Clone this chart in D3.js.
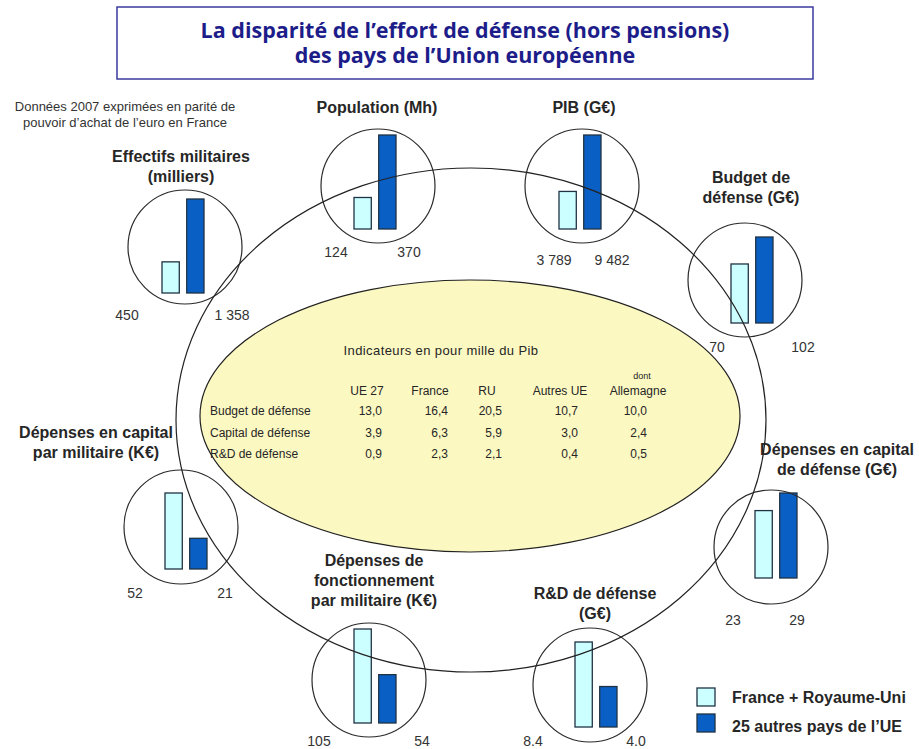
<!DOCTYPE html>
<html>
<head>
<meta charset="utf-8">
<script src="https://cdn.jsdelivr.net/npm/d3@7"></script>
<style>
  body { margin: 0; background: #fff; }
  svg { display: block; font-family: "Liberation Sans", Arial, sans-serif; }
</style>
</head>
<body>
<svg width="919" height="749"></svg>
<script>
// Data
const panelTitles = [
  ["Effectifs militaires", "(milliers)"],
  ["Population (Mh)"],
  ["PIB (G€)"],
  ["Budget de", "défense (G€)"],
  ["Dépenses en capital", "de défense (G€)"],
  ["R&D de défense", "(G€)"],
  ["Dépenses de", "fonctionnement", "par militaire (K€)"],
  ["Dépenses en capital", "par militaire (K€)"]
];
const franceUK = [450, 124, 3789, 70, 23, 8.4, 105, 52];
const otherEU = [1358, 370, 9482, 102, 29, 4.0, 54, 21];
const franceUKLabels = ["450", "124", "3 789", "70", "23", "8.4", "105", "52"];
const otherEULabels = ["1 358", "370", "9 482", "102", "29", "4.0", "54", "21"];
const seriesNames = ["France + Royaume-Uni", "25 autres pays de l\u2019UE"];

const tableColumns = ["UE 27", "France", "RU", "Autres UE", "Allemagne"];
const tableRows = ["Budget de défense", "Capital de défense", "R&D de défense"];
const budgetRow = [13.0, 16.4, 20.5, 10.7, 10.0];
const capitalRow = [3.9, 6.3, 5.9, 3.0, 2.4];
const rdRow = [0.9, 2.3, 2.1, 0.4, 0.5];

// Layout of each little circle chart
const layout = [
  { cx: 185, cy: 247, x0: 162, base: 293, h: 94, lx: 127, rx: 232, ly: 320, tx: 181, ty: 162 },
  { cx: 378, cy: 186, x0: 354, base: 229, h: 94, lx: 336, rx: 409, ly: 257, tx: 377, ty: 113 },
  { cx: 582, cy: 186, x0: 559, base: 229, h: 94, lx: 554, rx: 612, ly: 265, tx: 584, ty: 113 },
  { cx: 745, cy: 280, x0: 731, base: 323, h: 86, lx: 717, rx: 803, ly: 352, tx: 751, ty: 183 },
  { cx: 771, cy: 547, x0: 755, base: 578, h: 85, lx: 733, rx: 797, ly: 625, tx: 837, ty: 455 },
  { cx: 590, cy: 685, x0: 575, base: 727, h: 85, lx: 533, rx: 636, ly: 746, tx: 595, ty: 599 },
  { cx: 369, cy: 680, x0: 354, base: 723, h: 94, lx: 319, rx: 422, ly: 746, tx: 374, ty: 566 },
  { cx: 181, cy: 527, x0: 165, base: 569, h: 76, lx: 135, rx: 225, ly: 598, tx: 96, ty: 438 }
];

const colors = ["#ccffff", "#0a5fc4"];
const textColor = "#262626";

const svg = d3.select("svg");

// Title box
svg.append("rect")
  .attr("x", 117).attr("y", 7)
  .attr("width", 696).attr("height", 72)
  .attr("fill", "#fff")
  .attr("stroke", "#3a3aa0")
  .attr("stroke-width", 1.5);

svg.append("text")
  .attr("text-anchor", "middle")
  .attr("font-family", "'Open Sans', sans-serif")
  .attr("font-weight", 700)
  .attr("font-size", 21.5)
  .attr("fill", "#1d1d8a")
  .selectAll("tspan")
  .data(["La disparité de l\u2019effort de défense (hors pensions)", "des pays de l\u2019Union européenne"])
  .join("tspan")
  .attr("x", 465)
  .attr("y", (d, i) => 38 + i * 25)
  .text(d => d);

// Note
svg.append("text")
  .attr("text-anchor", "middle")
  .attr("font-size", 13)
  .attr("fill", "#333")
  .selectAll("tspan")
  .data(["Données 2007 exprimées en parité de", "pouvoir d\u2019achat  de l\u2019euro en France"])
  .join("tspan")
  .attr("x", 125)
  .attr("y", (d, i) => 111 + i * 16)
  .text(d => d);

// Inner yellow ellipse
svg.append("ellipse")
  .attr("cx", 470).attr("cy", 416)
  .attr("rx", 270).attr("ry", 136)
  .attr("fill", "#fcf8c2")
  .attr("stroke", "#222")
  .attr("stroke-width", 1.2);

// Table
const tbl = svg.append("g").attr("font-size", 12).attr("fill", textColor);
const colCenter = [367, 430, 487, 560, 638];
const colRight = [382, 448, 502, 578, 647];
const rowY = d3.scalePoint().domain(tableRows).range([415, 458]);
const fmt = d3.formatLocale({ decimal: ",", thousands: " ", grouping: [3], currency: ["", "€"] }).format(".1f");

tbl.append("text")
  .attr("x", 441).attr("y", 355)
  .attr("text-anchor", "middle")
  .attr("font-size", 13)
  .attr("letter-spacing", 0.4)
  .text("Indicateurs en pour mille du Pib");
tbl.append("text")
  .attr("x", 642).attr("y", 379)
  .attr("text-anchor", "middle")
  .attr("font-size", 9)
  .text("dont");
tbl.selectAll(".col")
  .data(tableColumns)
  .join("text")
  .attr("x", (d, i) => colCenter[i])
  .attr("y", 395)
  .attr("text-anchor", "middle")
  .text(d => d);
tbl.selectAll(".row")
  .data(tableRows)
  .join("text")
  .attr("x", 210)
  .attr("y", d => rowY(d))
  .text(d => d);
[budgetRow, capitalRow, rdRow].forEach((row, r) => {
  tbl.append("g")
    .selectAll("text")
    .data(row)
    .join("text")
    .attr("x", (d, i) => colRight[i])
    .attr("y", rowY(tableRows[r]))
    .attr("text-anchor", "end")
    .text(d => fmt(d));
});

// Bars and circles
const panels = svg.append("g");
layout.forEach((p, i) => {
  const vals = [franceUK[i], otherEU[i]];
  const x = d3.scaleBand().domain([0, 1]).range([p.x0, p.x0 + 42]).paddingInner(0.3);
  const y = d3.scaleLinear().domain([0, d3.max(vals)]).range([p.base, p.base - p.h]);
  const g = panels.append("g");
  g.selectAll("rect")
    .data(vals)
    .join("rect")
    .attr("x", (d, j) => x(j))
    .attr("y", d => y(d))
    .attr("width", x.bandwidth())
    .attr("height", d => p.base - y(d))
    .attr("fill", (d, j) => colors[j])
    .attr("stroke", "#1f3344")
    .attr("stroke-width", 1.3);
  g.append("circle")
    .attr("cx", p.cx).attr("cy", p.cy).attr("r", 57)
    .attr("fill", "none")
    .attr("stroke", "#2a2a2a")
    .attr("stroke-width", 1.2);
});

// Outer ellipse
svg.append("ellipse")
  .attr("cx", 471).attr("cy", 420)
  .attr("rx", 295).attr("ry", 252)
  .attr("fill", "none")
  .attr("stroke", "#222")
  .attr("stroke-width", 1.2);

// Panel texts
layout.forEach((p, i) => {
  svg.append("text")
    .attr("text-anchor", "middle")
    .attr("font-size", 16)
    .attr("font-weight", 700)
    .attr("fill", textColor)
    .selectAll("tspan")
    .data(panelTitles[i])
    .join("tspan")
    .attr("x", p.tx)
    .attr("y", (d, k) => p.ty + k * 20)
    .text(d => d);
  svg.append("g")
    .attr("font-size", 14)
    .attr("fill", "#333")
    .attr("text-anchor", "middle")
    .selectAll("text")
    .data([franceUKLabels[i], otherEULabels[i]])
    .join("text")
    .attr("x", (d, j) => j === 0 ? p.lx : p.rx)
    .attr("y", p.ly)
    .text(d => d);
});

// Legend
const legend = svg.append("g").attr("transform", "translate(697,688)");
legend.selectAll("rect")
  .data(seriesNames)
  .join("rect")
  .attr("x", 0)
  .attr("y", (d, i) => i * 26)
  .attr("width", 18).attr("height", 18)
  .attr("fill", (d, i) => colors[i])
  .attr("stroke", "#1f3344")
  .attr("stroke-width", 1.3);
legend.selectAll("text")
  .data(seriesNames)
  .join("text")
  .attr("x", 35)
  .attr("y", (d, i) => 15 + i * 29)
  .attr("font-size", 16)
  .attr("font-weight", 700)
  .attr("fill", textColor)
  .text(d => d);
</script>
</body>
</html>
